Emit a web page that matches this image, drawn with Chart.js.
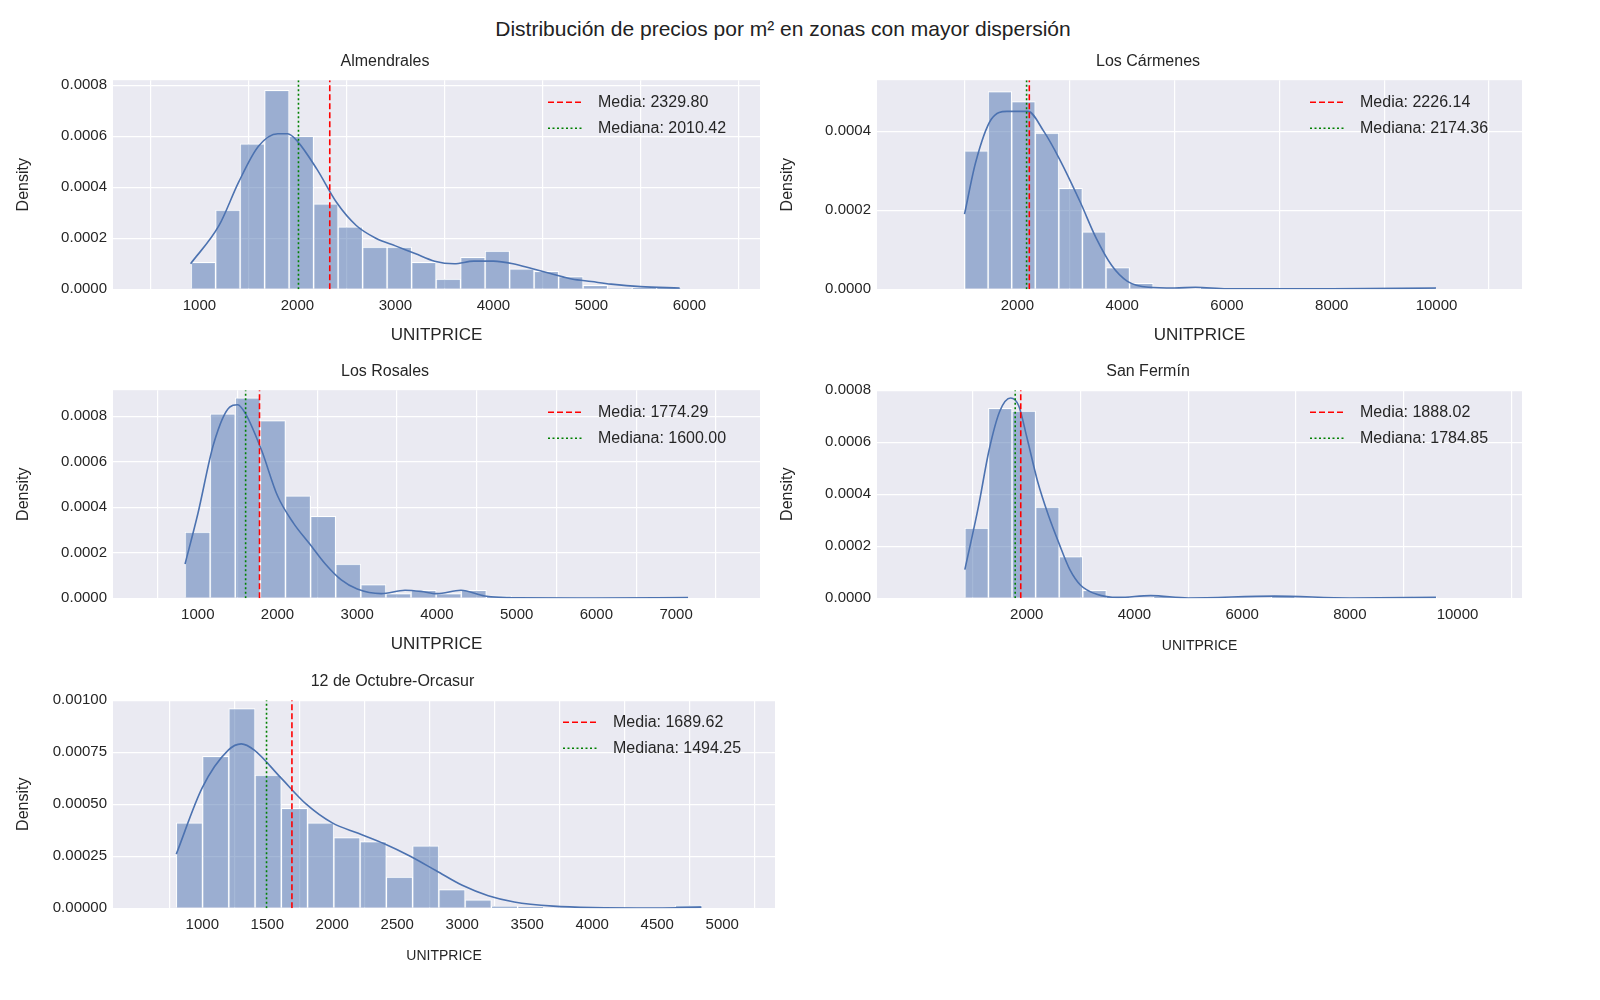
<!DOCTYPE html>
<html><head><meta charset="utf-8">
<script src="https://cdn.jsdelivr.net/npm/chart.js@4"></script>
<style>
body{margin:0;background:#fff;width:1600px;height:1000px;position:relative;font-family:"Liberation Sans",Arial,sans-serif;overflow:hidden}
#title{position:absolute;top:17px;left:0;width:1566px;text-align:center;font-size:21px;color:#222}
.p{position:absolute}
</style></head><body>
<div id="title">Distribución de precios por m² en zonas con mayor dispersión</div>
<script>
// ---- data ----
const alm_bins_start = 915, alm_bin_w = 250;
const alm_hist = [0.000105,0.00031,0.00057,0.00078,0.0006,0.000335,0.000245,0.000165,0.000165,0.000105,0.00004,0.000125,0.00015,0.00008,0.00007,0.00005,0.000015,0.000002,0.000005,0.000005];
const alm_kde_x = [910,1200,1400,1600,1800,1900,2000,2200,2400,2600,2800,3000,3200,3400,3600,3800,4000,4200,4400,4600,4800,5000,5200,5500,5900];
const alm_kde_y = [0.0001,0.00025,0.00042,0.00056,0.00061,0.00061,0.00058,0.00047,0.00034,0.00025,0.0002,0.00017,0.00014,0.00011,0.0001,0.00011,0.00011,0.0001,0.00008,0.00006,0.00004,0.00003,0.00002,0.00001,0.000005];
const alm_mean = 2329.80, alm_median = 2010.42;

const car_bins_start = 990, car_bin_w = 450;
const car_hist = [0.00035,0.0005,0.000475,0.000395,0.000255,0.000145,0.000055,0.000015,0,0,0.000003,0,0,0,0,0,0,0,0,0.000003];
const car_kde_x = [990,1200,1500,1800,2200,2500,2800,3200,3500,3800,4100,4500,5000,5400,6000,8000,9990];
const car_kde_y = [0.00019,0.00032,0.00043,0.00045,0.00045,0.0004,0.00033,0.00022,0.00013,0.00006,0.00002,0.000005,0.000003,0.000005,0.000001,0.000001,0.000003];
const car_mean = 2226.14, car_median = 2174.36;

const ros_bins_start = 840, ros_bin_w = 315;
const ros_hist = [0.00029,0.00081,0.00088,0.00078,0.00045,0.00036,0.00015,0.00006,0.00002,0.000035,0.00002,0.000035,0.00001,0,0,0,0,0,0,0.000005];
const ros_kde_x = [840,1000,1200,1400,1500,1600,1800,2000,2200,2400,2600,2800,3000,3300,3600,3800,4000,4300,4600,5000,6000,7150];
const ros_kde_y = [0.00015,0.00037,0.00068,0.00084,0.00085,0.00081,0.00065,0.00045,0.00033,0.00024,0.00015,0.00008,0.00004,0.00002,0.000035,0.00003,0.00002,0.000035,0.00001,0.000002,0.000001,0.000003];
const ros_mean = 1774.29, ros_median = 1600.00;

const fer_bins_start = 850, fer_bin_w = 438;
const fer_hist = [0.00027,0.00073,0.00072,0.00035,0.00016,0.00003,0.000005,0,0.000005,0,0,0,0,0.000005,0,0,0,0,0,0.000005];
const fer_kde_x = [850,1100,1300,1500,1700,1850,2000,2200,2400,2600,2800,3000,3300,3700,4300,5000,6600,8000,9600];
const fer_kde_y = [0.00011,0.00035,0.00057,0.00072,0.00077,0.00074,0.00062,0.00045,0.00032,0.00021,0.00011,0.00005,0.000015,0.000003,0.00001,0.000001,0.000008,0.000001,0.000003];
const fer_mean = 1888.02, fer_median = 1784.85;

const oct_bins_start = 800, oct_bin_w = 202;
const oct_hist = [0.00041,0.00073,0.00096,0.00064,0.00048,0.00041,0.00034,0.00032,0.00015,0.0003,0.00009,0.00004,0.00001,0.000005,0,0,0,0,0,0.000015];
const oct_kde_x = [800,1000,1200,1300,1400,1600,1800,2000,2200,2400,2600,2800,3000,3200,3400,3700,4000,4500,4840];
const oct_kde_y = [0.00026,0.00058,0.00076,0.00079,0.00076,0.00063,0.0005,0.00041,0.00036,0.00031,0.00025,0.00018,0.00011,0.00006,0.00003,0.00001,0.000003,0.000001,0.000005];
const oct_mean = 1689.62, oct_median = 1494.25;

const panels = [
 {title:'Almendrales', s:alm_bins_start, w:alm_bin_w, h:alm_hist, kx:alm_kde_x, ky:alm_kde_y, mean:alm_mean, med:alm_median,
  area:[113,80,760,289], xmin:668, xmax:6170, xticks:[1000,2000,3000,4000,5000,6000], ymax:0.00082, yticks:[0,0.0002,0.0004,0.0006,0.0008], dec:4, xfs:17},
 {title:'Los Cármenes', s:car_bins_start, w:car_bin_w, h:car_hist, kx:car_kde_x, ky:car_kde_y, mean:car_mean, med:car_median,
  area:[877,80,1522,289], xmin:550, xmax:10400, xticks:[2000,4000,6000,8000,10000], ymax:0.000529, yticks:[0,0.0002,0.0004], dec:4, xfs:17},
 {title:'Los Rosales', s:ros_bins_start, w:ros_bin_w, h:ros_hist, kx:ros_kde_x, ky:ros_kde_y, mean:ros_mean, med:ros_median,
  area:[113,390,760,598], xmin:516, xmax:7473, xticks:[1000,2000,3000,4000,5000,6000,7000], ymax:0.000914, yticks:[0,0.0002,0.0004,0.0006,0.0008], dec:4, xfs:17},
 {title:'San Fermín', s:fer_bins_start, w:fer_bin_w, h:fer_hist, kx:fer_kde_x, ky:fer_kde_y, mean:fer_mean, med:fer_median,
  area:[877,390,1522,598], xmin:416, xmax:10000, xticks:[2000,4000,6000,8000,10000], ymax:0.0008, yticks:[0,0.0002,0.0004,0.0006,0.0008], dec:4, xfs:14},
 {title:'12 de Octubre-Orcasur', s:oct_bins_start, w:oct_bin_w, h:oct_hist, kx:oct_kde_x, ky:oct_kde_y, mean:oct_mean, med:oct_median,
  area:[113,700,775,908], xmin:596, xmax:5123, xticks:[1000,1500,2000,2500,3000,3500,4000,4500,5000], ymax:0.001, yticks:[0,0.00025,0.0005,0.00075,0.001], dec:5, xfs:14},
];

const FONT = '"Liberation Sans", Arial, sans-serif';
const bgPlugin = {id:'bg', beforeDraw(c){const a=c.chartArea,ctx=c.ctx;ctx.save();ctx.fillStyle='#eaeaf2';ctx.fillRect(a.left,a.top,a.right-a.left,a.bottom-a.top);ctx.restore();}};
const legPlugin = {id:'leg', afterDraw(c){
  const a=c.chartArea,ctx=c.ctx;ctx.save();
  const items=c.data.datasets.filter(d=>d.legendLabel);
  let x=a.right-212,y=a.top+22;
  ctx.font='16px '+FONT;ctx.textBaseline='middle';
  items.forEach((d,i)=>{const yy=y+i*26;ctx.strokeStyle=d.borderColor;ctx.lineWidth=1.6;ctx.setLineDash(d.borderDash);
    ctx.beginPath();ctx.moveTo(x,yy);ctx.lineTo(x+34,yy);ctx.stroke();ctx.setLineDash([]);
    ctx.fillStyle='#262626';ctx.fillText(d.legendLabel,x+50,yy);});
  ctx.restore();}};

panels.forEach(p=>{
  const [l,t,r,b]=p.area;
  let cl=l-103, ct=t-32, cw=(r-cl)+30, chh=(b-ct)+60;
  const div=document.createElement('div');div.className='p';
  const place=()=>{div.style.left=cl+'px';div.style.top=ct+'px';div.style.width=cw+'px';div.style.height=chh+'px';};
  place();
  const cv=document.createElement('canvas');div.appendChild(cv);document.body.appendChild(div);
  const bars=p.h.map((v,i)=>({x:p.s+p.w*(i+0.5),y:v}));
  const kde=p.kx.map((x,i)=>({x:x,y:p.ky[i]}));
  const chart=new Chart(cv,{
    data:{datasets:[
      {type:'bar',data:bars,backgroundColor:'rgba(76,114,176,0.5)',borderColor:'#ffffff',borderWidth:1,barPercentage:1,categoryPercentage:1,grouped:false,order:3},
      {type:'line',data:kde,borderColor:'#4c72b0',borderWidth:1.6,pointRadius:0,cubicInterpolationMode:'monotone',order:2},
      {type:'line',data:[{x:p.mean,y:0},{x:p.mean,y:p.ymax}],borderColor:'#ff0000',borderDash:[6,3],borderWidth:1.6,pointRadius:0,legendLabel:'Media: '+p.mean.toFixed(2),order:1},
      {type:'line',data:[{x:p.med,y:0},{x:p.med,y:p.ymax}],borderColor:'#008000',borderDash:[2,2.5],borderWidth:1.6,pointRadius:0,legendLabel:'Mediana: '+p.med.toFixed(2),order:1},
    ]},
    options:{responsive:true,maintainAspectRatio:false,animation:false,
      layout:{padding:{left:0,right:30,top:0,bottom:0}},
      plugins:{legend:{display:false},tooltip:{enabled:false},
        title:{display:true,text:p.title,color:'#262626',font:{family:FONT,size:16,weight:'normal'},padding:{top:4,bottom:9}}},
      scales:{
        x:{type:'linear',min:p.xmin,max:p.xmax,bounds:'data',
          afterBuildTicks:s=>{s.ticks=p.xticks.map(v=>({value:v}));s.min=p.xmin;s.max=p.xmax;},
          afterFit:s=>{s.height=60;},
          grid:{color:'#ffffff',lineWidth:1.2,drawTicks:false},border:{display:false},
          ticks:{color:'#262626',font:{family:FONT,size:15},padding:8,maxRotation:0,autoSkip:false,callback:v=>String(v)},
          title:{display:true,text:'UNITPRICE',color:'#262626',font:{family:FONT,size:p.xfs},padding:{top:2}}},
        y:{min:0,max:p.ymax,bounds:'data',
          afterBuildTicks:s=>{s.ticks=p.yticks.map(v=>({value:v}));s.min=0;s.max=p.ymax;},
          afterFit:s=>{s.width=103;},
          grid:{color:'#ffffff',lineWidth:1.2,drawTicks:false},border:{display:false},
          ticks:{color:'#262626',font:{family:FONT,size:15},padding:6,callback:v=>Number(v).toFixed(p.dec)},
          title:{display:true,text:'Density',color:'#262626',font:{family:FONT,size:16},padding:{bottom:2}}}
      }},
    plugins:[bgPlugin,legPlugin]
  });
  // align chart area to target box
  for(let k=0;k<3;k++){
    const a=chart.chartArea;
    const dx=l-(cl+a.left), dy=t-(ct+a.top);
    const dw=(r-l)-(a.right-a.left), dh=(b-t)-(a.bottom-a.top);
    cl+=dx; ct+=dy; cw+=dw; chh+=dh; place(); chart.resize();
  }
});
</script>
</body></html>
